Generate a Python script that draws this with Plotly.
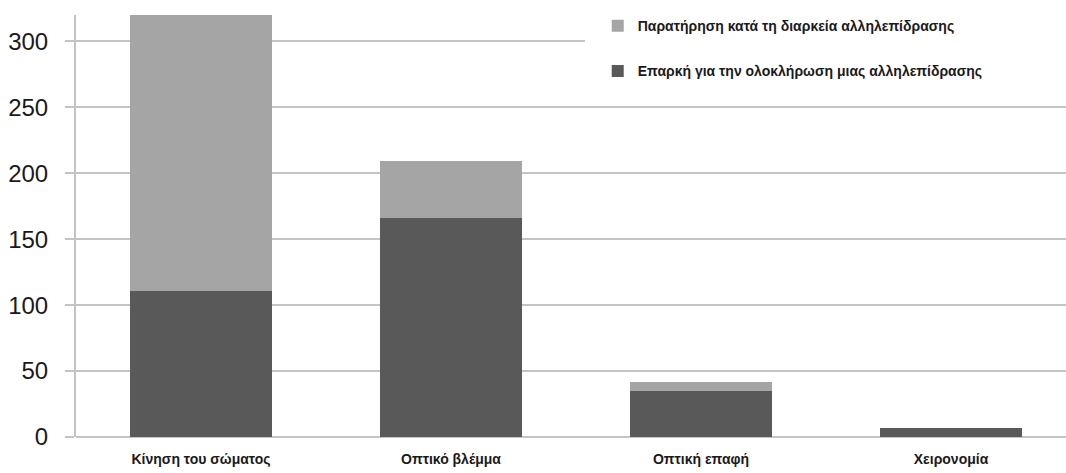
import plotly.graph_objects as go

categories = ["Κίνηση του σώματος", "Οπτικό βλέμμα", "Οπτική επαφή", "Χειρονομία"]
sufficient = [111, 166, 35, 7]          # Επαρκή για την ολοκλήρωση μιας αλληλεπίδρασης
observation = [209, 43, 7, 0]           # Παρατήρηση κατά τη διαρκεία αλληλεπίδρασης
y_ticks = [0, 50, 100, 150, 200, 250, 300]

name_obs = "Παρατήρηση κατά τη διαρκεία αλληλεπίδρασης"
name_suf = "Επαρκή για την ολοκλήρωση μιας αλληλεπίδρασης"

fig = go.Figure()
fig.add_trace(go.Bar(
    x=categories, y=sufficient, name=name_suf, legendgroup="b", legendrank=2,
    marker=dict(color="#595959", line=dict(width=0)),
))
fig.add_trace(go.Bar(
    x=categories, y=observation, name=name_obs, legendgroup="a", legendrank=1,
    marker=dict(color="#a5a5a5", line=dict(width=0)),
))

# white panel behind the legend, hiding the grid in the top-right corner
fig.add_shape(
    type="rect", xref="paper", yref="paper", layer="above",
    x0=(585 - 76) / 990, x1=1.0, y0=(437 - 95) / 422, y1=1.05,
    fillcolor="white", line=dict(width=0),
)

fig.update_layout(
    width=1066, height=473,
    margin=dict(l=76, r=0, t=15, b=36),
    paper_bgcolor="white", plot_bgcolor="white",
    barmode="stack", bargap=0.43,
    showlegend=True,
    legend=dict(
        x=0.527, y=1.0115, xanchor="left", yanchor="top",
        bgcolor="white", traceorder="grouped", tracegroupgap=24,
        font=dict(family="Liberation Sans", size=14, color="#1a1a1a", weight="bold"),
    ),
    font=dict(family="Liberation Sans", color="#1a1a1a"),
)

fig.update_xaxes(
    range=[-0.5, 3.46], showgrid=False, zeroline=False, showline=False,
    ticks="", ticklabelstandoff=12,
    tickfont=dict(family="Liberation Sans", size=14, color="#1a1a1a", weight="bold"),
)
fig.update_yaxes(
    range=[0, 320], tickvals=y_ticks, ticktext=[str(v) for v in y_ticks],
    showgrid=True, gridcolor="#c4c4c4", gridwidth=2,
    zeroline=True, zerolinecolor="#c4c4c4", zerolinewidth=2,
    showline=True, linecolor="#c4c4c4", linewidth=2,
    ticks="outside", ticklen=9, tickcolor="#c4c4c4", tickwidth=2,
    ticklabelstandoff=12,
    tickfont=dict(family="Liberation Sans", size=24, color="#1a1a1a"),
)

fig.write_html("out.html")
